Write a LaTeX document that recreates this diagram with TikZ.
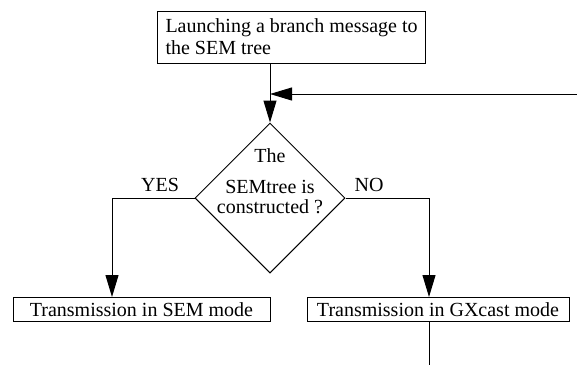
\documentclass[tikz,border=0pt]{standalone}
\usepackage{fontspec}
\setmainfont{Liberation Serif}
\usetikzlibrary{shapes.geometric,arrows.meta}

\begin{document}
\begin{tikzpicture}[x=1pt,y=-1pt,line width=1pt,
        font=\fontsize{20}{22}\selectfont,
        box/.style={draw,rectangle,inner sep=0pt,minimum height=24pt},
        decision/.style={draw,diamond,inner sep=0pt,minimum width=150pt,minimum height=150pt},
        arr/.style={-{Triangle[length=22pt,width=13pt]}}]
    \useasboundingbox (0,0) rectangle (577,365);

    \node[box, minimum height=52pt, inner xsep=8pt, align=left, anchor=west] (launch) at (157,37) {Launching a branch message to\\the SEM tree};

    % the test and its answers
    \node[decision] (test) at (270,198) {};
    \node[align=center] (question) at (270,181) {The\\[9pt]SEMtree is\\[-2pt]constructed ?};
    \node[anchor=base] (yes) at (160,191) {YES};
    \node[anchor=base] (no) at (369,191) {NO};

    \node[box, minimum width=257pt] (sem) at (141.5,309.5) {Transmission in SEM mode};
    \node[box, minimum width=262pt] (gx) at (438,309.5) {Transmission in GXcast mode};

    \coordinate (back) at (577,94);
    \coordinate (exit) at (429,365);

    \draw[arr] (launch.south -| test.north) -- (test.north);
    \draw[arr] (back) -- (back -| test.north);
    \draw[arr] (test.west) -| ([xshift=-29.5pt]sem.north);
    \draw[arr] (test.east) -| ([xshift=-9pt]gx.north);
    \draw (gx.south -| exit) -- (exit);
\end{tikzpicture}
\end{document}
